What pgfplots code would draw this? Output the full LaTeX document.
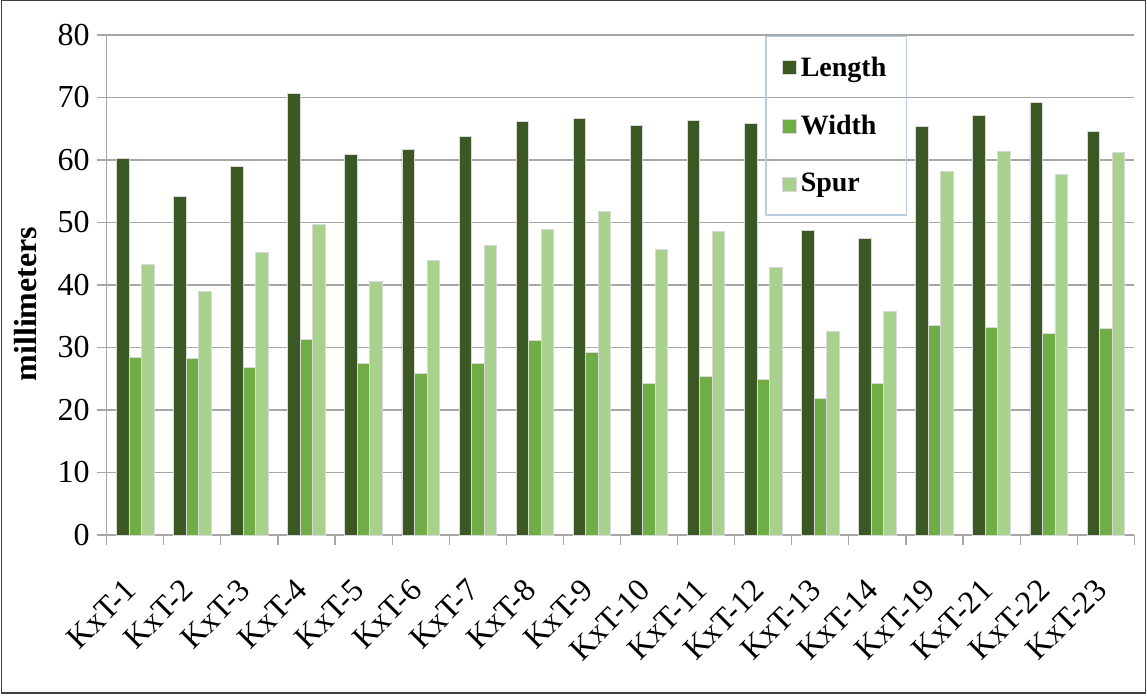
\documentclass[border=0pt]{standalone}
\usepackage{fontspec}
\setmainfont{Liberation Serif}
\usepackage{pgfplots}
\pgfplotsset{compat=1.18}
\usepackage{pgfplotstable}
\definecolor{cLen}{HTML}{3B5723}
\definecolor{cWid}{HTML}{70AD47}
\definecolor{cSpur}{HTML}{A9D18E}
\definecolor{gridc}{HTML}{A6A6A6}
\definecolor{legc}{HTML}{B9CDE5}

% x = category index, L = Length, W = Width, S = Spur (mm)
\pgfplotstableread{
x L W S
0 60.3 28.4 43.3
1 54.2 28.2 39.0
2 58.9 26.8 45.2
3 70.6 31.3 49.7
4 60.9 27.4 40.6
5 61.7 25.9 44.0
6 63.7 27.4 46.4
7 66.1 31.1 48.9
8 66.6 29.2 51.8
9 65.6 24.2 45.7
10 66.3 25.3 48.6
11 65.9 24.9 42.8
12 48.8 21.9 32.5
13 47.5 24.2 35.8
14 65.4 33.6 58.1
15 67.2 33.2 61.3
16 69.2 32.3 57.7
17 64.5 33.0 61.2
}\kxt

\begin{document}
\begin{tikzpicture}
\useasboundingbox (-53.35pt,-81.5pt) rectangle (520.15pt,267.5pt);
\begin{axis}[
    at={(0,0)}, anchor=south west,
    scale only axis, width=513.8pt, height=250pt,
    ybar=0pt, bar width=6.25pt,
    ymin=0, ymax=80, ytick={0,10,...,80},
    xmin=-0.5, xmax=17.5,
    xtick={0,...,17},
    xticklabels={KxT-1,KxT-2,KxT-3,KxT-4,KxT-5,KxT-6,KxT-7,KxT-8,KxT-9,KxT-10,KxT-11,KxT-12,KxT-13,KxT-14,KxT-19,KxT-21,KxT-22,KxT-23},
    minor xtick={-0.5,0.5,...,17.5},
    axis x line*=bottom, axis y line*=left,
    ymajorgrids, grid style={gridc, line width=0.6pt},
    axis line style={gridc, line width=0.6pt},
    tick style={gridc, line width=0.6pt},
    major x tick style={draw=none},
    tick align=outside, major tick length=5pt, minor tick length=5pt,
    /pgf/number format/assume math mode=true,
    tick label style={font=\fontsize{16}{16}\selectfont},
    x tick label style={rotate=45, anchor=north east, xshift=-12.25pt, yshift=-3.6pt},
    ylabel={millimeters},
    ylabel style={font=\fontsize{16}{16}\selectfont\bfseries, at={(axis description cs:-0.079,0.462)}, anchor=center},
    legend style={at={(0.641,0.998)}, anchor=north west, draw=legc, line width=0.6pt, fill=none,
        font=\fontsize{14}{14}\selectfont\bfseries, row sep=14pt, inner xsep=8pt, inner ysep=8pt},
    legend cell align=left,
    legend image code/.code={\fill[#1] (0pt,-3.5pt) rectangle (7pt,3.5pt);},
]
\addplot[fill=cLen, draw=black!15, line width=0.4pt] table[x=x, y=L] {\kxt};
\addplot[fill=cWid, draw=black!15, line width=0.4pt] table[x=x, y=W] {\kxt};
\addplot[fill=cSpur, draw=black!15, line width=0.4pt] table[x=x, y=S] {\kxt};
\legend{Length, Width, Spur}
\end{axis}
\draw[black!75, line width=0.8pt] (-52.5pt,-79pt) rectangle (519.4pt,267.25pt);
\end{tikzpicture}
\end{document}
